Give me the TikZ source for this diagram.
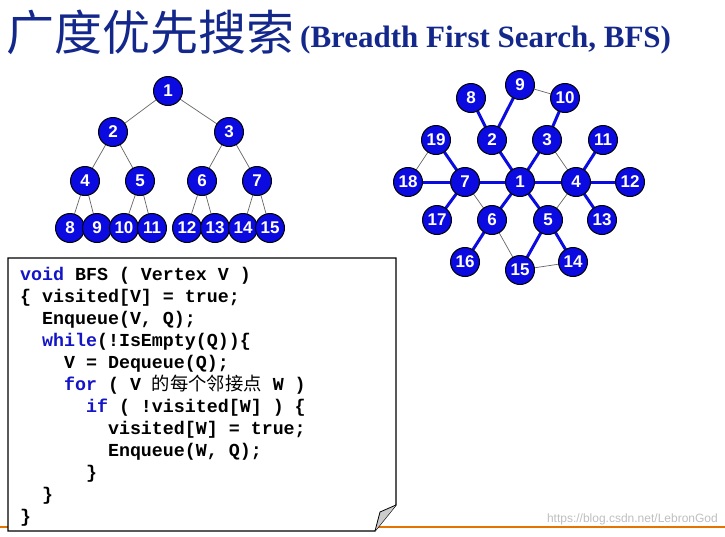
\documentclass[tikz,border=0pt]{standalone}
\usepackage{fontspec}
\setmainfont{Liberation Serif}
\newfontfamily\numfont{Liberation Sans}
\newfontfamily\codefont{Liberation Mono}
\newfontfamily\cjk{Noto Sans CJK SC}
\definecolor{nodeblue}{RGB}{10,10,225}
\definecolor{titleblue}{RGB}{20,40,140}
\definecolor{kw}{RGB}{20,20,200}
\begin{document}
\begin{tikzpicture}[x=1pt,y=-1pt,
  vtx/.style={circle,draw=black,line width=1pt,fill=nodeblue,minimum size=29pt,inner sep=0pt,text=white,font=\numfont\bfseries\fontsize{17}{17}\selectfont},
  thin/.style={draw=gray!80!black,line width=0.7pt},
  thick/.style={draw=nodeblue,line width=3pt},
  codeline/.style={anchor=base west,inner sep=0pt,font=\codefont\bfseries\fontsize{18.3}{20}\selectfont}]
\useasboundingbox (0,0) rectangle (725,536);
\fill[white] (0,0) rectangle (725,536);
% title
\node[anchor=base west,inner sep=0pt,text=titleblue,font=\cjk\fontsize{48}{48}\selectfont] (t1) at (6,50) {广度优先搜索};
\node[anchor=base west,inner sep=0pt,text=titleblue,font=\bfseries\fontsize{31}{31}\selectfont] (t2) at (300,47) {(Breadth First Search, BFS)};
% tree
\foreach \n/\x/\y in {1/168/91,2/113/132,3/229/132,4/85/181,5/140/181,6/202/181,7/257/181,8/70/228,9/97/228,10/124/228,11/152/228,12/187/228,13/215/228,14/243/228,15/270/228}
  \coordinate (p\n) at (\x,\y);
\foreach \a/\b in {1/2,1/3,2/4,2/5,3/6,3/7,4/8,4/9,5/10,5/11,6/12,6/13,7/14,7/15}
  \draw[thin] (p\a) -- (p\b);
\foreach \n in {1,...,15}
  \node[vtx] (t\n) at (p\n) {\n};
% graph
\foreach \n/\x/\y in {1/520/182,2/492/140,3/547/140,4/576/182,5/548/220,6/492/220,7/465/182,8/471/98,9/520/85,10/565/98,11/603/140,12/630/182,13/602/220,14/573/262,15/520/270,16/465/262,17/437/220,18/408/182,19/436/140}
  \coordinate (q\n) at (\x,\y);
\foreach \a/\b in {9/10,3/4,4/5,7/6,6/15,15/14,18/19}
  \draw[thin] (q\a) -- (q\b);
\foreach \a/\b in {1/2,1/3,1/4,1/5,1/6,1/7,2/8,2/9,3/10,4/11,4/12,4/13,5/14,5/15,6/16,7/17,7/18,7/19}
  \draw[thick] (q\a) -- (q\b);
\foreach \n in {1,...,19}
  \node[vtx] (g\n) at (q\n) {\n};
% orange line
\draw[orange!90!black,line width=1.5pt] (0,527) -- (725,527);
% code box
\draw[fill=white,line width=1.2pt] (8,258) -- (396,258) -- (396,505) -- (375,531) -- (8,531) -- cycle;
\fill[gray!40] (396,505) -- (375,531) -- (380,512) -- cycle;
\draw[line width=0.8pt] (396,505) -- (380,512) -- (375,531);
\node[codeline] (c1) at (20,280) {\textcolor{kw}{void} BFS ( Vertex V )};
\node[codeline] (c2) at (20,302) {\{ visited[V] = true;};
\node[codeline] (c3) at (20,324) {\ \ Enqueue(V, Q);};
\node[codeline] (c4) at (20,346) {\ \ \textcolor{kw}{while}(!IsEmpty(Q))\{};
\node[codeline] (c5) at (20,368) {\ \ \ \ V = Dequeue(Q);};
\node[codeline] (c6) at (20,390) {\ \ \ \ \textcolor{kw}{for} ( V {\cjk\mdseries 的每个邻接点} W )};
\node[codeline] (c7) at (20,412) {\ \ \ \ \ \ \textcolor{kw}{if} ( !visited[W] ) \{};
\node[codeline] (c8) at (20,434) {\ \ \ \ \ \ \ \ visited[W] = true;};
\node[codeline] (c9) at (20,456) {\ \ \ \ \ \ \ \ Enqueue(W, Q);};
\node[codeline] (c10) at (20,478) {\ \ \ \ \ \ \}};
\node[codeline] (c11) at (20,500) {\ \ \}};
\node[codeline] (c12) at (20,522) {\}};
% watermark
\node[anchor=base east,inner sep=0pt,text=gray!50,font=\numfont\fontsize{12}{12}\selectfont] (wm) at (718,522) {https://blog.csdn.net/LebronGod};
\end{tikzpicture}
\end{document}
